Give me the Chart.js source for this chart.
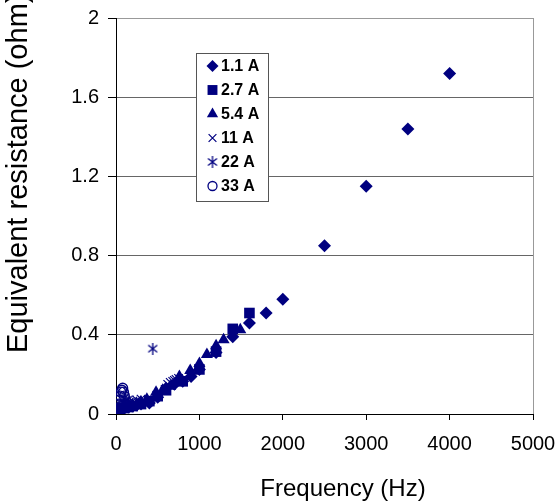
<!DOCTYPE html>
<html>
<head>
<meta charset="utf-8">
<script src="https://cdn.jsdelivr.net/npm/chart.js@4/dist/chart.umd.min.js"></script>
<style>
  html, body { margin: 0; padding: 0; background: #fff; }
  canvas { display: block; }
</style>
</head>
<body>
<canvas id="chart" width="558" height="504"></canvas>
<script>
// values
const freq11 = [20, 50, 80, 100, 150, 200, 250, 300, 400, 500, 600, 700, 800, 900, 1000, 1200, 1400, 1600, 1800, 2000, 2500, 3000, 3500, 4000];
const res11 = [0.01, 0.02, 0.025, 0.03, 0.035, 0.04, 0.045, 0.05, 0.055, 0.085, 0.13, 0.15, 0.165, 0.19, 0.225, 0.31, 0.39, 0.46, 0.51, 0.58, 0.85, 1.15, 1.44, 1.72];

const freq27 = [20, 50, 100, 150, 200, 300, 400, 500, 600, 800, 1000, 1200, 1400, 1600];
const res27 = [0.015, 0.02, 0.03, 0.035, 0.04, 0.05, 0.065, 0.09, 0.12, 0.165, 0.225, 0.315, 0.43, 0.51];

const freq54 = [20, 50, 100, 150, 200, 250, 300, 370, 480, 560, 650, 760, 890, 1000, 1090, 1200, 1290, 1490];
const res54 = [0.02, 0.025, 0.035, 0.04, 0.045, 0.05, 0.06, 0.075, 0.11, 0.12, 0.14, 0.19, 0.22, 0.255, 0.3, 0.345, 0.375, 0.425];

const freq110 = [20, 40, 60, 80, 100, 130, 160, 200, 250, 300, 620, 650, 680, 700, 720, 750];
const res110 = [0.02, 0.03, 0.035, 0.04, 0.05, 0.055, 0.06, 0.065, 0.07, 0.075, 0.15, 0.16, 0.165, 0.17, 0.175, 0.18];

const freq220 = [20, 40, 60, 80, 100, 120, 150, 440];
const res220 = [0.025, 0.035, 0.045, 0.055, 0.065, 0.07, 0.075, 0.33];

const freq330 = [20, 30, 40, 50, 60, 70, 80, 90, 100];
const res330 = [0.03, 0.05, 0.07, 0.09, 0.11, 0.12, 0.13, 0.11, 0.09];

const seriesLabels = ['1.1 A', '2.7 A', '5.4 A', '11 A', '22 A', '33 A'];
const xTicks = [0, 1000, 2000, 3000, 4000, 5000];
const yTicks = [0, 0.4, 0.8, 1.2, 1.6, 2];

const navy = '#000080';
const font = 'Arial, "Liberation Sans", sans-serif';

// asterisk marker (X with a vertical bar)
const star = document.createElement('canvas');
star.width = 12; star.height = 12;
(function () {
  const c = star.getContext('2d');
  c.strokeStyle = navy;
  c.lineWidth = 1.3;
  c.beginPath();
  c.moveTo(1.5, 2.5); c.lineTo(10.5, 9.5);
  c.moveTo(10.5, 2.5); c.lineTo(1.5, 9.5);
  c.moveTo(6, 0); c.lineTo(6, 12);
  c.stroke();
})();

const pts = (xs, ys) => xs.map((x, i) => ({ x: x, y: ys[i] }));

const styles = [
  { pointStyle: 'rectRot', radius: 6.5, bg: navy, bw: 0 },
  { pointStyle: 'rect', radius: 7.5, bg: navy, bw: 0 },
  { pointStyle: 'triangle', radius: 7, bg: navy, bw: 0 },
  { pointStyle: 'crossRot', radius: 6, bg: navy, bw: 1.2 },
  { pointStyle: star, radius: 6, bg: navy, bw: 1 },
  { pointStyle: 'circle', radius: 5, bg: 'transparent', bw: 1.3 }
];
const allData = [pts(freq11, res11), pts(freq27, res27), pts(freq54, res54),
  pts(freq110, res110), pts(freq220, res220), pts(freq330, res330)];

const datasets = allData.map((d, i) => ({
  label: seriesLabels[i],
  data: d,
  pointStyle: styles[i].pointStyle,
  pointRadius: styles[i].radius,
  pointHoverRadius: styles[i].radius,
  pointBackgroundColor: styles[i].bg,
  pointBorderColor: navy,
  pointBorderWidth: styles[i].bw,
  showLine: false
}));

const boxLegend = {
  id: 'boxLegend',
  afterDraw(chart) {
    const ctx = chart.ctx;
    ctx.save();
    ctx.fillStyle = '#fff';
    ctx.fillRect(196, 53, 72, 148);
    ctx.strokeStyle = '#555';
    ctx.lineWidth = 1;
    ctx.strokeRect(196.5, 53.5, 72, 148);
    ctx.font = 'bold 16px ' + font;
    ctx.textBaseline = 'middle';
    ctx.textAlign = 'left';
    seriesLabels.forEach((lab, i) => {
      const y = 66 + i * 24;
      ctx.fillStyle = styles[i].bg;
      ctx.strokeStyle = navy;
      ctx.lineWidth = styles[i].bw;
      if (Chart.helpers && Chart.helpers.drawPoint) {
        Chart.helpers.drawPoint(ctx, {
          pointStyle: styles[i].pointStyle,
          radius: styles[i].radius - 0.5,
          borderWidth: styles[i].bw,
          rotation: 0
        }, 212.5, y);
      }
      ctx.fillStyle = '#000';
      ctx.fillText(lab, 221, y + 1);
    });
    // axis titles
    ctx.fillStyle = '#000';
    ctx.font = '24px ' + font;
    ctx.textAlign = 'center';
    ctx.fillText('Frequency (Hz)', 343, 489);
    ctx.translate(19, 353);
    ctx.rotate(-Math.PI / 2);
    ctx.font = '29px ' + font;
    ctx.textAlign = 'left';
    ctx.fillText('Equivalent resistance (ohm)', 0, 0);
    ctx.restore();
  }
};

new Chart(document.getElementById('chart'), {
  type: 'scatter',
  data: { datasets: datasets },
  plugins: [boxLegend],
  options: {
    responsive: false,
    animation: false,
    devicePixelRatio: 1,
    layout: { padding: { top: 18, right: 25, left: 0, bottom: 0 } },
    plugins: { legend: { display: false }, tooltip: { enabled: false } },
    scales: {
      x: {
        type: 'linear',
        min: 0,
        max: 5000,
        afterBuildTicks: s => { s.ticks = xTicks.map(v => ({ value: v })); },
        afterFit: s => { s.height = 90; s.paddingLeft = 0; s.paddingRight = 0; },
        ticks: {
          color: '#000',
          font: { family: font, size: 20 },
          padding: 12,
          maxRotation: 0,
          callback: v => String(v)
        },
        grid: {
          color: c => (c.tick && c.tick.value === 5000 ? '#999' : 'transparent'),
          tickColor: '#000',
          tickLength: 6,
          lineWidth: 1
        },
        border: { display: true, color: '#000', width: 1 }
      },
      y: {
        type: 'linear',
        min: 0,
        max: 2,
        afterBuildTicks: s => { s.ticks = yTicks.map(v => ({ value: v })); },
        afterFit: s => { s.width = 116; s.paddingTop = 0; s.paddingBottom = 0; },
        ticks: {
          color: '#000',
          font: { family: font, size: 20 },
          padding: 9,
          callback: v => String(+v.toFixed(1))
        },
        grid: {
          color: c => {
            if (!c.tick) return 'transparent';
            if (c.tick.value === 0) return 'transparent';
            return c.tick.value === 2 ? '#999' : '#666';
          },
          tickColor: '#000',
          tickLength: 8,
          lineWidth: 1
        },
        border: { display: true, color: '#000', width: 1 }
      }
    }
  }
});
</script>
</body>
</html>
